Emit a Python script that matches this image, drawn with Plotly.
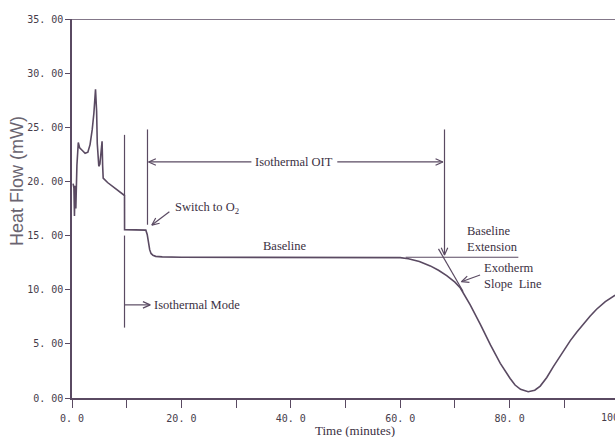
import math
import plotly.graph_objects as go

# ---- DSC isothermal oxidation-induction-time run: heat flow vs. time ----
time_min = [0.2, 0.35, 0.45, 0.55, 0.7, 0.9, 1.15, 1.4, 1.8, 2.4,
            2.9, 3.3, 3.7, 4.0, 4.3, 4.5, 4.62, 4.75, 4.9, 5.1,
            5.35, 5.5, 5.6, 5.7, 6.5, 7.5, 8.5, 9.6, 9.61, 11.0,
            12.5, 13.5, 13.75, 14.0, 14.2, 14.45, 14.8, 15.3, 16.5, 20.0,
            30.0, 40.0, 50.0, 58.0, 60.0, 61.5, 63.5, 65.5, 67.0, 68.5,
            70.0, 71.0, 72.8, 74.7, 76.5, 78.3, 79.3, 80.1, 81.0, 82.0,
            83.4, 84.6, 85.6, 86.8, 88.0, 89.5, 91.1, 92.3, 93.5, 94.7,
            95.9, 97.5, 99.3]
heat_flow_mw = [19.8, 19.4, 16.8, 19.6, 17.5, 21.5, 23.6, 23.1, 22.9, 22.6,
                22.7, 23.4, 24.8, 26.3, 28.5, 26.5, 23.5, 21.6, 21.4, 21.6,
                22.8, 23.7, 21.5, 20.3, 19.9, 19.5, 19.1, 18.7, 15.55, 15.55,
                15.55, 15.5, 15.1, 14.3, 13.7, 13.35, 13.18, 13.08, 13.03, 13.0,
                13.0, 13.0, 13.0, 13.0, 12.96, 12.86, 12.6, 12.2, 11.8, 11.3,
                10.7, 10.16, 8.6, 6.76, 4.9, 3.2, 2.4, 1.8, 1.2, 0.8,
                0.58, 0.72, 1.1, 1.9, 2.9, 4.1, 5.3, 6.1, 6.85, 7.55,
                8.2, 8.9, 9.5]

# ---- axis ticks ----
x_major = [0, 20, 40, 60, 80]
x_major_text = ["0. 0", "20. 0", "40. 0", "60. 0", "80. 0"]
x_minor = [10, 30, 50, 70, 90]
x_edge_tick = 100
x_edge_text = "100. 0"
y_major = [0, 5, 10, 15, 20, 25, 30, 35]
y_major_text = ["0. 00", "5. 00", "10. 00", "15. 00", "20. 00",
                "25. 00", "30. 00", "35. 00"]

# ---- event markers (minutes / mW) ----
iso_mode_t = 9.6        # switch to isothermal hold
switch_o2_t = 13.8      # gas switched to oxygen
oit_end_t = 68.1        # extrapolated onset of oxidation
baseline_mw = 13.0
marker_top_mw = 24.8
oit_arrow_mw = 21.8
slope_line_t = [67.0, 71.5]
slope_line_mw = [13.77, 9.84]
baseline_ext_t = [61.0, 81.6]

# ---- layout geometry ----
W, H = 615, 437
M_L, M_R, M_T, M_B = 72, 0, 19, 39
X_RANGE = [0, 99.27]
Y_RANGE = [0, 35]
PLOT_W = W - M_L - M_R
PLOT_H = H - M_T - M_B
PX_X = PLOT_W / (X_RANGE[1] - X_RANGE[0])
PX_Y = PLOT_H / (Y_RANGE[1] - Y_RANGE[0])

INK = "#5a4a62"
TEXT = "#3b3042"
TICK_TEXT = "#463c4b"
SERIF = "Liberation Serif, Times New Roman, serif"
MONO = "DejaVu Sans Mono, monospace"
TICK_SIZE = 10


def chevron(tip_x, tip_y, from_x, from_y, size=8.0, spread=0.42):
    """Open V arrowhead at (tip_x, tip_y), pointing away from (from_x, from_y)."""
    dx = (tip_x - from_x) * PX_X
    dy = (tip_y - from_y) * PX_Y
    n = math.hypot(dx, dy)
    bx, by = -dx / n, -dy / n
    xs, ys = [], []
    for s in (1, -1):
        c, sn = math.cos(s * spread), math.sin(s * spread)
        rx, ry = bx * c - by * sn, bx * sn + by * c
        xs.append(tip_x + rx * size / PX_X)
        ys.append(tip_y + ry * size / PX_Y)
    return [xs[0], tip_x, xs[1], None], [ys[0], tip_y, ys[1], None]


# straight guide segments: (x pair, y pair)
segments = [
    ([iso_mode_t, iso_mode_t], [24.3, 18.7]),
    ([iso_mode_t, iso_mode_t], [15.0, 6.5]),
    ([switch_o2_t, switch_o2_t], [marker_top_mw, 16.0]),
    ([oit_end_t, oit_end_t], [marker_top_mw, 13.2]),
    ([14.0, 32.8], [oit_arrow_mw, oit_arrow_mw]),
    ([48.5, 67.8], [oit_arrow_mw, oit_arrow_mw]),
    (baseline_ext_t, [baseline_mw, baseline_mw]),
    (slope_line_t, slope_line_mw),
    ([iso_mode_t, 14.3], [8.6, 8.6]),
    ([17.8, 14.6], [17.2, 15.97]),
    ([74.6, 71.2], [11.36, 10.74]),
]
# arrow tips: (tip, tail direction point)
arrow_tips = [
    ((14.0, oit_arrow_mw), (20.0, oit_arrow_mw)),
    ((67.8, oit_arrow_mw), (60.0, oit_arrow_mw)),
    ((oit_end_t, 13.2), (oit_end_t, 20.0)),
    ((14.3, 8.6), (iso_mode_t, 8.6)),
    ((14.6, 15.97), (17.8, 17.2)),
    ((71.2, 10.74), (74.6, 11.36)),
]

gx, gy = [], []
for xs, ys in segments:
    gx += xs + [None]
    gy += ys + [None]
for (tx, ty), (fx, fy) in arrow_tips:
    cx, cy = chevron(tx, ty, fx, fy)
    gx += cx
    gy += cy

fig = go.Figure()
fig.add_trace(go.Scatter(x=gx, y=gy, mode="lines",
                         line=dict(color=INK, width=1.2),
                         hoverinfo="skip"))
fig.add_trace(go.Scatter(x=time_min, y=heat_flow_mw, mode="lines",
                         line=dict(color=INK, width=1.6),
                         name="Heat Flow"))


def label(x, y, text, xanchor="left", size=12.5):
    fig.add_annotation(x=x, y=y, xref="x", yref="y", text=text,
                       showarrow=False, xanchor=xanchor, yanchor="middle",
                       align="left",
                       font=dict(family=SERIF, size=size, color=TEXT))


label(14.65, 8.6, "Isothermal Mode")
label(18.4, 17.55, "Switch to O<sub>2</sub>")
label(40.5, oit_arrow_mw, "Isothermal OIT", xanchor="center")
label(38.9, 14.0, "Baseline", xanchor="center")
label(71.9, 14.65, "Baseline<br>Extension")
label(75.0, 11.26, "Exotherm<br>Slope\u00a0 Line")

# axis titles
fig.add_annotation(x=(17 - M_L) / PLOT_W, y=(H - M_B - 181) / PLOT_H,
                   xref="paper", yref="paper", text="Heat Flow (mW)",
                   textangle=-90, showarrow=False,
                   xanchor="center", yanchor="middle",
                   font=dict(family="Liberation Sans, Arial, sans-serif",
                             size=18, color="#6a6470"))
fig.add_annotation(x=(355 - M_L) / PLOT_W, y=-(430 - (H - M_B)) / PLOT_H,
                   xref="paper", yref="paper", text="Time (minutes)",
                   showarrow=False, xanchor="center", yanchor="middle",
                   font=dict(family=SERIF, size=13, color=TEXT))
# last x tick label sits past the visible range
fig.add_annotation(x=(x_edge_tick - X_RANGE[0]) / (X_RANGE[1] - X_RANGE[0]),
                   y=0, xref="paper", yref="paper", text=x_edge_text,
                   showarrow=False, xanchor="center", yanchor="top",
                   yshift=-12,
                   font=dict(family=MONO, size=TICK_SIZE, color=TICK_TEXT))

# top frame line
fig.add_shape(type="line", xref="paper", yref="y", x0=0, x1=1,
              y0=Y_RANGE[1], y1=Y_RANGE[1],
              line=dict(color=INK, width=1.5), layer="above")

fig.update_layout(
    width=W, height=H,
    margin=dict(l=M_L, r=M_R, t=M_T, b=M_B),
    paper_bgcolor="white", plot_bgcolor="white",
    showlegend=False,
    xaxis=dict(range=X_RANGE, showgrid=False, zeroline=False,
               showline=True, linecolor=INK, linewidth=1.5,
               ticks="outside", ticklen=8, tickwidth=1.3, tickcolor=INK,
               tickvals=x_major, ticktext=x_major_text,
               ticklabelstandoff=2,
               tickfont=dict(family=MONO, size=TICK_SIZE, color=TICK_TEXT),
               minor=dict(tickvals=x_minor, ticks="outside", ticklen=8,
                          tickwidth=1.3, tickcolor=INK)),
    yaxis=dict(range=Y_RANGE, showgrid=False, zeroline=False,
               showline=True, linecolor=INK, linewidth=1.5,
               ticks="outside", ticklen=5, tickwidth=1.3, tickcolor=INK,
               tickvals=y_major, ticktext=y_major_text,
               tickfont=dict(family=MONO, size=TICK_SIZE, color=TICK_TEXT)),
)

fig.write_html("out.html")
